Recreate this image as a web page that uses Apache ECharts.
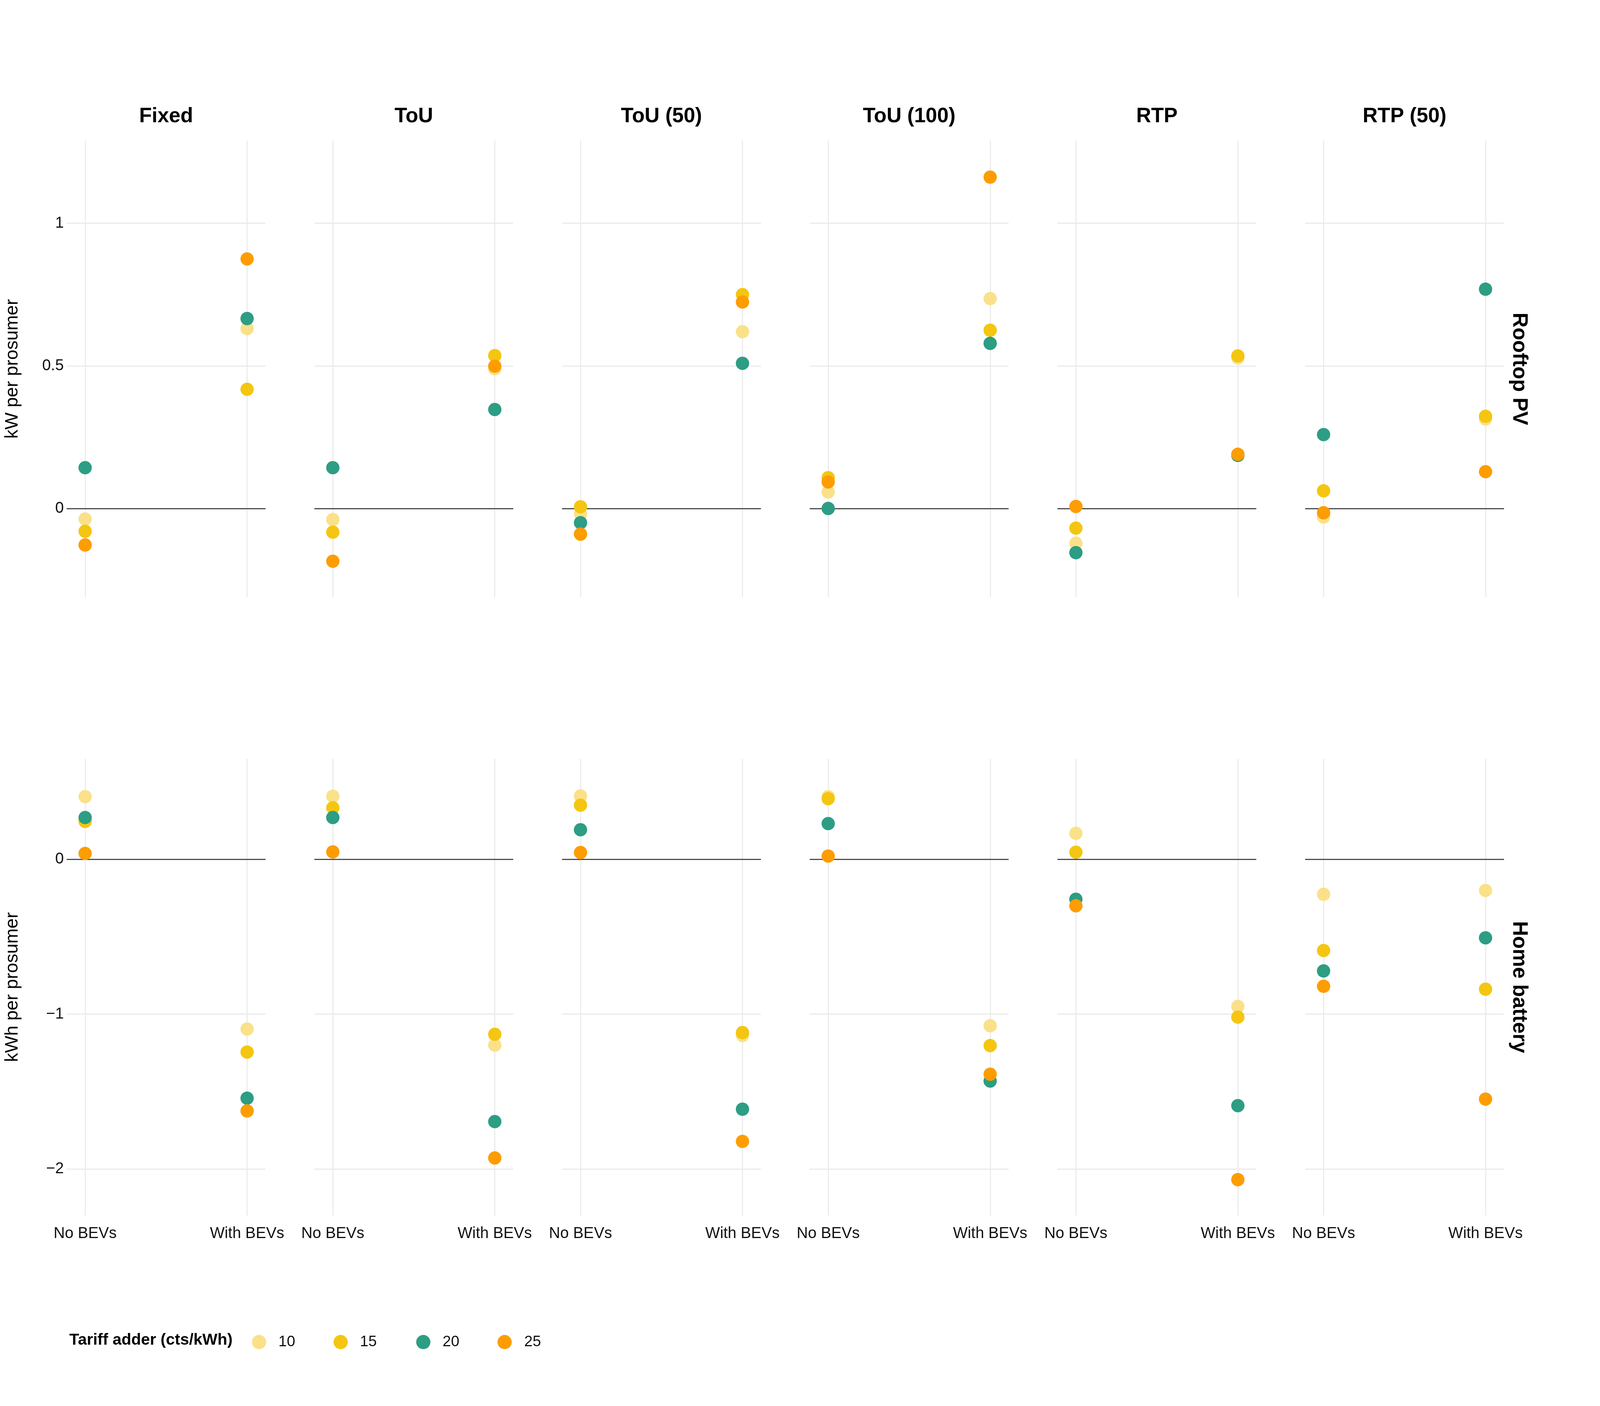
<!DOCTYPE html>
<html>
<head>
<meta charset="utf-8">
<script src="https://cdn.jsdelivr.net/npm/echarts@6/dist/echarts.min.js"></script>
<style>
html,body{margin:0;padding:0;background:#fff;overflow:hidden;width:100%;height:100%;}
#chart{width:100vw;height:100vh;}
</style>
</head>
<body>
<div id="chart"></div>
<script>
// ---------- data ----------
const facets = ['Fixed', 'ToU', 'ToU (50)', 'ToU (100)', 'RTP', 'RTP (50)'];
const rowLabels = ['Rooftop PV', 'Home battery'];
const rowUnits = ['kW per prosumer', 'kWh per prosumer'];
const scenarios = ['No BEVs', 'With BEVs'];
const tariffs = ['10', '15', '20', '25'];
const legendTitle = 'Tariff adder (cts/kWh)';

// order per array: [Fixed No, Fixed With, ToU No, ToU With, ToU(50) No, ToU(50) With,
//                   ToU(100) No, ToU(100) With, RTP No, RTP With, RTP(50) No, RTP(50) With]
const pv10 = [-0.037, 0.631, -0.039, 0.490, -0.018, 0.620, 0.058, 0.736, -0.122, 0.528, -0.030, 0.314];
const pv15 = [-0.080, 0.418, -0.083, 0.536, 0.006, 0.750, 0.108, 0.625, -0.069, 0.535, 0.062, 0.323];
const pv20 = [0.143, 0.666, 0.143, 0.347, -0.050, 0.509, 0.000, 0.579, -0.155, 0.186, 0.259, 0.769];
const pv25 = [-0.128, 0.875, -0.185, 0.499, -0.090, 0.724, 0.093, 1.162, 0.007, 0.190, -0.015, 0.129];

const bat10 = [0.405, -1.096, 0.407, -1.200, 0.409, -1.138, 0.405, -1.075, 0.168, -0.950, -0.226, -0.201];
const bat15 = [0.245, -1.245, 0.333, -1.130, 0.350, -1.119, 0.392, -1.203, 0.046, -1.019, -0.589, -0.839];
const bat20 = [0.270, -1.543, 0.270, -1.694, 0.191, -1.614, 0.231, -1.432, -0.258, -1.591, -0.721, -0.507];
const bat25 = [0.038, -1.625, 0.048, -1.929, 0.044, -1.822, 0.021, -1.388, -0.300, -2.069, -0.820, -1.549];

const pvTicks = [0, 0.5, 1];
const batTicks = [-2, -1, 0];

// ---------- styling / layout (design units: 7200 x 3600, scaled to the window) ----------
const colors = ['#FAE189', '#F4C611', '#2D9D83', '#FD9D01'];
const FONT = 'Liberation Sans, Arial, sans-serif';
const el = document.getElementById('chart');
const W = el.clientWidth || window.innerWidth || 7200;
const H = el.clientHeight || window.innerHeight || 3600;
const sx = W / 7200, sy = H / 3600, s = Math.min(sx, sy);
const X = v => v * sx, Y = v => v * sy, F = v => v * s;

const panelLeft0 = 300, panelPitch = 1114.6, panelW = 895;
const rowTop = [360, 1943], panelH = 1169;
const yRange = [[-0.311, 1.29], [-2.30, 0.649]];
const xRange = [0.886, 2.114];

const rowData = [[pv10, pv15, pv20, pv25], [bat10, bat15, bat20, bat25]];
const rowTicks = [pvTicks, batTicks];

const fmt = v => {
  const t = String(Math.abs(v));
  return v < 0 ? '\u2212' + t : t;
};

const grids = [], xAxes = [], yAxes = [], series = [];
for (let r = 0; r < 2; r++) {
  for (let c = 0; c < facets.length; c++) {
    const gi = r * facets.length + c;
    grids.push({left: X(panelLeft0 + c * panelPitch), top: Y(rowTop[r]), width: X(panelW), height: Y(panelH), containLabel: false});
    xAxes.push({
      type: 'value', gridIndex: gi, min: xRange[0], max: xRange[1],
      axisLine: {show: false},
      axisTick: {show: false, customValues: [1, 2]},
      axisLabel: {show: r === 1, customValues: [1, 2], margin: Y(27),
        formatter: v => scenarios[Math.round(v) - 1],
        fontFamily: FONT, fontSize: F(70), color: '#111'},
      splitLine: {show: true, lineStyle: {color: '#EBEBEB', width: F(5)}}
    });
    yAxes.push({
      type: 'value', gridIndex: gi, min: yRange[r][0], max: yRange[r][1],
      axisLine: {show: false},
      axisTick: {show: false, customValues: rowTicks[r]},
      axisLabel: {show: c === 0, customValues: rowTicks[r], margin: X(13),
        formatter: fmt, fontFamily: FONT, fontSize: F(70), color: '#111'},
      splitLine: {show: true, lineStyle: {color: '#EBEBEB', width: F(5)}}
    });
  }
}

for (let t = 0; t < tariffs.length; t++) {
  for (let r = 0; r < 2; r++) {
    for (let c = 0; c < facets.length; c++) {
      const gi = r * facets.length + c;
      const vals = rowData[r][t];
      const ser = {
        name: tariffs[t], type: 'scatter', xAxisIndex: gi, yAxisIndex: gi,
        symbol: 'circle', symbolSize: F(60),
        itemStyle: {color: colors[t], opacity: 1},
        emphasis: {disabled: true},
        silent: true, animation: false,
        data: [[1, vals[c * 2]], [2, vals[c * 2 + 1]]]
      };
      if (t === 0) {
        ser.markLine = {
          silent: true, symbol: 'none', z: 1, animation: false,
          label: {show: false},
          lineStyle: {color: '#4D4D4D', width: F(5), type: 'solid'},
          data: [{yAxis: 0}]
        };
      }
      series.push(ser);
    }
  }
}

const graphics = [];
facets.forEach((f, c) => {
  graphics.push({type: 'text', x: X(panelLeft0 + c * panelPitch + panelW / 2), y: Y(298),
    style: {text: f, font: 'bold ' + F(93) + 'px ' + FONT, fill: '#000', textAlign: 'center', textVerticalAlign: 'middle'}});
});
rowLabels.forEach((lab, r) => {
  graphics.push({type: 'text', x: X(6835), y: Y(rowTop[r] + panelH / 2), rotation: -Math.PI / 2,
    style: {text: lab, font: 'bold ' + F(93) + 'px ' + FONT, fill: '#000', textAlign: 'center', textVerticalAlign: 'middle'}});
  graphics.push({type: 'text', x: X(57), y: Y(rowTop[r] + panelH / 2), rotation: Math.PI / 2,
    style: {text: rowUnits[r], font: F(82) + 'px ' + FONT, fill: '#000', textAlign: 'center', textVerticalAlign: 'middle'}});
});
graphics.push({type: 'text', x: X(312), y: Y(3432),
  style: {text: legendTitle, font: 'bold ' + F(72) + 'px ' + FONT, fill: '#000', textAlign: 'left', textVerticalAlign: 'middle'}});

// one legend block per tariff so each key sits where the reference puts it
const legendCircleX = [1212, 1579, 1951, 2318];
const legendTextX = [1299, 1666, 2038, 2406];
const legendY = 3435;
const legends = tariffs.map((t, i) => {
  const boxW = 2 * (legendTextX[i] - legendCircleX[i]) - 10 / sx;
  return {
    data: [{name: t, icon: 'circle'}],
    orient: 'horizontal',
    left: X(legendCircleX[i] - boxW / 2), top: Y(legendY) - F(32),
    itemWidth: X(boxW), itemHeight: F(64), itemGap: 0, padding: 0,
    selectedMode: false,
    textStyle: {fontFamily: FONT, fontSize: F(68), color: '#111'}
  };
});

const chart = echarts.init(el, null, {renderer: 'canvas', width: W, height: H});
chart.setOption({
  backgroundColor: '#fff',
  animation: false,
  grid: grids,
  xAxis: xAxes,
  yAxis: yAxes,
  series: series,
  legend: legends,
  graphic: graphics
});
</script>
</body>
</html>
